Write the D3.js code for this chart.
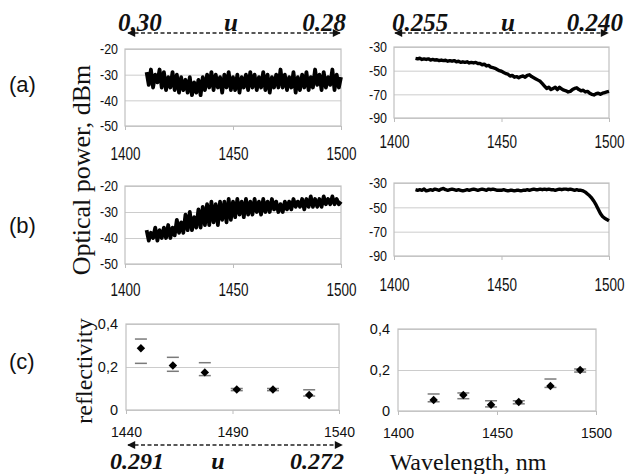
<!DOCTYPE html>
<html>
<head>
<meta charset="utf-8">
<script src="https://cdn.jsdelivr.net/npm/d3@7"></script>
<style>
  body { margin: 0; background: #fff; }
  svg { display: block; }
  .grid line { stroke: #cccccc; stroke-width: 1; }
  .frame { fill: none; stroke: #c0c0c0; stroke-width: 1.2; }
  .tick text { fill: #111; }
</style>
</head>
<body>
<svg width="627" height="474"></svg>
<script>
// wavelength grid of the spectra, 1 nm step
const specWl = d3.range(1410, 1501);

// (a) left, optical power dBm (noisy band)
const aLeft = [
  -29, -34, -28, -35, -30, -33, -28, -35, -29, -36,
  -31, -35, -29, -36, -30, -37, -31, -36, -32, -37,
  -31, -38, -33, -37, -32, -38, -31, -36, -30, -35,
  -29, -36, -30, -35, -31, -37, -30, -35, -29, -36,
  -31, -36, -30, -37, -31, -35, -30, -36, -29, -35,
  -30, -36, -31, -35, -29, -36, -30, -37, -31, -35,
  -30, -35, -28, -35, -30, -36, -31, -35, -29, -37,
  -31, -36, -30, -35, -29, -36, -31, -35, -28, -34,
  -30, -36, -29, -35, -31, -34, -28, -36, -30, -35,
  -31
];
// (a) right
const aRight = [
  -39.6, -40, -39.5, -40.5, -40, -40.5, -40, -41, -40.5, -41,
  -40.8, -41.5, -41, -41.5, -41.2, -42, -41.5, -42, -41.5, -42.5,
  -42, -43, -42.5, -43, -42.5, -43.5, -43, -43.5, -43, -44,
  -44, -45, -44.5, -46, -45.5, -47, -47.5, -48, -49, -50,
  -50.5, -51.5, -52.5, -53, -54.5, -54, -55.5, -55, -56, -55,
  -54.5, -55.5, -54, -53.5, -55, -56, -57, -58, -59, -61,
  -63, -65, -64, -66, -65, -64, -66, -64, -65.5, -66.5,
  -67, -68, -67.5, -66, -65, -64.5, -66, -67, -66.5, -68,
  -67.5, -69, -70, -70.5, -69.5, -69, -70, -69, -68.5, -68,
  -67.5
];
// (b) left (noisy band)
const bLeft = [
  -37, -41, -38, -40, -36, -41, -37, -40, -36, -40,
  -35, -40, -36, -39, -33, -38, -34, -38, -31, -37,
  -30, -37, -32, -36, -29, -36, -28, -35, -27, -35,
  -26, -34, -27, -35, -26, -33, -26, -34, -25, -33,
  -26, -32, -25, -31, -26, -32, -25, -31, -26, -31,
  -25, -30, -26, -31, -25, -30, -26, -30, -25, -29,
  -26, -30, -27, -30, -26, -29, -26, -29, -25, -28,
  -26, -28, -25, -29, -25, -28, -24, -28, -25, -28,
  -25, -28, -24, -27, -25, -27, -24, -27, -25, -27,
  -26
];
// (b) right
const bRight = [
  -35.5, -36, -35.5, -36, -35, -36.5, -36, -35.5, -36, -35,
  -35.5, -36, -35, -34.5, -35.5, -36, -35.5, -35, -35.5, -36,
  -35.5, -36, -36.5, -36, -35.5, -36, -35.5, -35, -35.5, -36,
  -35.5, -35, -35.5, -36, -35, -35.5, -35, -35.5, -36, -36,
  -36, -35.5, -36, -36.5, -36, -36, -36.5, -36, -36, -36.5,
  -36, -36, -35.5, -36, -35.5, -35, -35.5, -35.5, -35, -35.5,
  -35, -35.5, -35, -35.5, -35.5, -36, -35.5, -35, -35.5, -35,
  -35, -35.5, -35, -35.5, -36, -35.5, -36, -36, -36.5, -37.5,
  -39, -40.5, -42.5, -45, -48, -51.5, -55, -57.5, -59, -60,
  -61
];

// (c) reflectivity
const reflLeftWl  = [1447, 1462, 1477, 1492, 1509, 1526];
const reflLeftVal = [0.287, 0.207, 0.175, 0.095, 0.095, 0.07];
const reflLeftHi  = [0.33, 0.245, 0.22, 0.1, 0.1, 0.094];
const reflLeftLo  = [0.217, 0.18, 0.16, 0.09, 0.09, 0.065];

const reflRightWl  = [1418, 1433, 1447, 1461, 1477, 1492];
const reflRightVal = [0.054, 0.078, 0.03, 0.044, 0.122, 0.2];
const reflRightHi  = [0.083, 0.088, 0.05, 0.05, 0.156, 0.205];
const reflRightLo  = [0.045, 0.06, 0.02, 0.035, 0.115, 0.19];

// ticks
const xTicksSpec = [1400, 1450, 1500];
const xTicksReflLeft = [1440, 1490, 1540];
const yTicksLeft = [-20, -30, -40, -50];
const yTicksRight = [-30, -50, -70, -90];
const yTicksRefl = [0, 0.2, 0.4];

// u labels
const uTopLeft = ["0.30", "0.28"];
const uTopRight = ["0.255", "0.240"];
const uBottom = ["0.291", "0.272"];

const svg = d3.select("svg");
const sans = "'Liberation Sans', Arial, sans-serif";
const serif = "'Liberation Serif', 'Times New Roman', serif";

// arrowhead marker
svg.append("defs").append("marker")
    .attr("id", "arr")
    .attr("viewBox", "0 0 10 10")
    .attr("refX", 9).attr("refY", 5)
    .attr("markerWidth", 9).attr("markerHeight", 8)
    .attr("markerUnits", "userSpaceOnUse")
    .attr("orient", "auto-start-reverse")
  .append("path")
    .attr("d", "M0,0 L10,5 L0,10 z")
    .attr("fill", "#111");

function panel(p) {
    const x = d3.scaleLinear().domain(p.xDomain).range([p.x0, p.x1]);
    const y = d3.scaleLinear().domain(p.yDomain).range([p.y1, p.y0]);
    const g = svg.append("g");

    // horizontal grid
    g.append("g").attr("class", "grid")
        .attr("transform", `translate(${p.x0},0)`)
        .call(d3.axisLeft(y).tickValues(p.yTicks).tickSize(-(p.x1 - p.x0)).tickFormat(""))
        .call(s => s.select(".domain").remove());

    g.append("rect").attr("class", "frame")
        .attr("x", p.x0).attr("y", p.y0)
        .attr("width", p.x1 - p.x0).attr("height", p.y1 - p.y0);

    // y labels
    const yl = g.append("g")
        .attr("transform", `translate(${p.x0},0)`)
        .call(d3.axisLeft(y).tickValues(p.yTicks).tickSize(0).tickPadding(p.yPad).tickFormat(p.yFormat))
        .call(s => s.select(".domain").remove())
        .selectAll("text")
        .style("font-family", sans).style("font-size", p.yFs + "px");
    if (p.yChar) yl.attr("textLength", function () { return this.textContent.length * p.yChar; })
        .attr("lengthAdjust", "spacingAndGlyphs");

    // x ticks + labels
    const xl = g.append("g")
        .attr("transform", `translate(0,${p.y1})`)
        .call(d3.axisBottom(x).tickValues(p.xTicks).tickSize(4).tickPadding(p.xPad).tickFormat(d => String(d)))
        .call(s => s.select(".domain").remove())
        .call(s => s.selectAll("line").attr("stroke", "#bdbdbd"))
        .selectAll("text")
        .style("font-family", sans).style("font-size", p.xFs + "px");
    if (p.xChar) xl.attr("textLength", function () { return this.textContent.length * p.xChar; })
        .attr("lengthAdjust", "spacingAndGlyphs");

    return { x, y, g };
}

function spectrum(p, values, width) {
    const { x, y, g } = panel(p);
    const line = d3.line().x((d, i) => x(specWl[i])).y(d => y(d));
    g.append("path")
        .datum(values)
        .attr("d", line)
        .attr("fill", "none")
        .attr("stroke", "#000")
        .attr("stroke-width", width)
        .attr("stroke-linejoin", "round");
}

function refl(p, wl, val, hi, lo) {
    const { x, y, g } = panel(p);
    const caps = g.append("g").attr("stroke", "#7a7a7a").attr("stroke-width", 1.5);
    wl.forEach((w, i) => {
        [hi[i], lo[i]].forEach(v => {
            caps.append("line")
                .attr("x1", x(w) - 6).attr("x2", x(w) + 6)
                .attr("y1", y(v)).attr("y2", y(v));
        });
    });
    g.selectAll(".pt").data(wl).enter().append("path")
        .attr("class", "pt")
        .attr("d", d3.symbol(d3.symbolSquare, 36))
        .attr("transform", (d, i) => `translate(${x(d)},${y(val[i])}) rotate(45)`)
        .attr("fill", "#000");
}

// plain hyphen minus, as in the figure
const specStyle = { yFs: 15.5, yChar: 6, yPad: 7, xFs: 18, xChar: 7.5, yFormat: d => String(d) };
const reflStyle = { yFs: 14.5, yPad: 8, xFs: 14, yFormat: d => d === 0 ? "0" : String(d).replace(".", ",") };

spectrum({ ...specStyle, x0: 125, x1: 341, y0: 49, y1: 126, xDomain: [1400, 1500], yDomain: [-50, -20], yTicks: yTicksLeft, xTicks: xTicksSpec, xPad: 17 }, aLeft, 3.8);
spectrum({ ...specStyle, x0: 394, x1: 609, y0: 47, y1: 118, xDomain: [1400, 1500], yDomain: [-90, -30], yTicks: yTicksRight, xTicks: xTicksSpec, xPad: 13 }, aRight, 3.4);
spectrum({ ...specStyle, x0: 125, x1: 341, y0: 186, y1: 264, xDomain: [1400, 1500], yDomain: [-50, -20], yTicks: yTicksLeft, xTicks: xTicksSpec, xPad: 15 }, bLeft, 3.8);
spectrum({ ...specStyle, x0: 394, x1: 609, y0: 183, y1: 256, xDomain: [1400, 1500], yDomain: [-90, -30], yTicks: yTicksRight, xTicks: xTicksSpec, xPad: 18 }, bRight, 3.4);
refl({ ...reflStyle, x0: 126, x1: 339, y0: 324, y1: 410, xDomain: [1440, 1540], yDomain: [0, 0.4], yTicks: yTicksRefl, xTicks: xTicksReflLeft, xPad: 13 }, reflLeftWl, reflLeftVal, reflLeftHi, reflLeftLo);
refl({ ...reflStyle, x0: 398, x1: 596, y0: 329, y1: 411, xDomain: [1400, 1500], yDomain: [0, 0.4], yTicks: yTicksRefl, xTicks: xTicksSpec, xPad: 13 }, reflRightWl, reflRightVal, reflRightHi, reflRightLo);

// u arrows with labels
function uArrow(x0, x1, yLine, yText, labels, uX, fs) {
    svg.append("line")
        .attr("x1", x0).attr("x2", x1).attr("y1", yLine).attr("y2", yLine)
        .attr("stroke", "#222").attr("stroke-width", 1.3)
        .attr("stroke-dasharray", "4,2.5")
        .attr("marker-start", "url(#arr)").attr("marker-end", "url(#arr)");
    const t = svg.append("g")
        .style("font-family", serif).style("font-weight", "bold")
        .style("font-style", "italic").style("font-size", fs + "px").attr("fill", "#111");
    t.append("text").attr("x", labels[0][1]).attr("y", yText).text(labels[0][0]);
    t.append("text").attr("x", uX).attr("y", yText).attr("text-anchor", "middle").text("u");
    t.append("text").attr("x", labels[1][1]).attr("y", yText).attr("text-anchor", "end").text(labels[1][0]);
}
uArrow(128, 340, 33, 31, [[uTopLeft[0], 118], [uTopLeft[1], 346]], 231, 25);
uArrow(395, 608, 33, 31, [[uTopRight[0], 392], [uTopRight[1], 623]], 508, 25);
uArrow(128, 342, 445, 469, [[uBottom[0], 110], [uBottom[1], 344]], 218, 24);

// panel letters
[["(a)", 92], ["(b)", 233], ["(c)", 369]].forEach(([s, yy]) => {
    svg.append("text").attr("x", 9).attr("y", yy).text(s)
        .style("font-family", sans).style("font-size", "22px").attr("fill", "#111");
});

// axis titles
svg.append("text")
    .attr("transform", "translate(90,170) rotate(-90)")
    .attr("text-anchor", "middle")
    .style("font-family", serif).style("font-size", "26px").attr("fill", "#111")
    .text("Optical power, dBm");
svg.append("text")
    .attr("transform", "translate(92,371) rotate(-90)")
    .attr("text-anchor", "middle")
    .style("font-family", serif).style("font-size", "24px").attr("fill", "#111")
    .text("reflectivity");
svg.append("text")
    .attr("x", 468).attr("y", 470)
    .attr("text-anchor", "middle")
    .style("font-family", serif).style("font-size", "24px").attr("fill", "#111")
    .text("Wavelength, nm");
</script>
</body>
</html>
